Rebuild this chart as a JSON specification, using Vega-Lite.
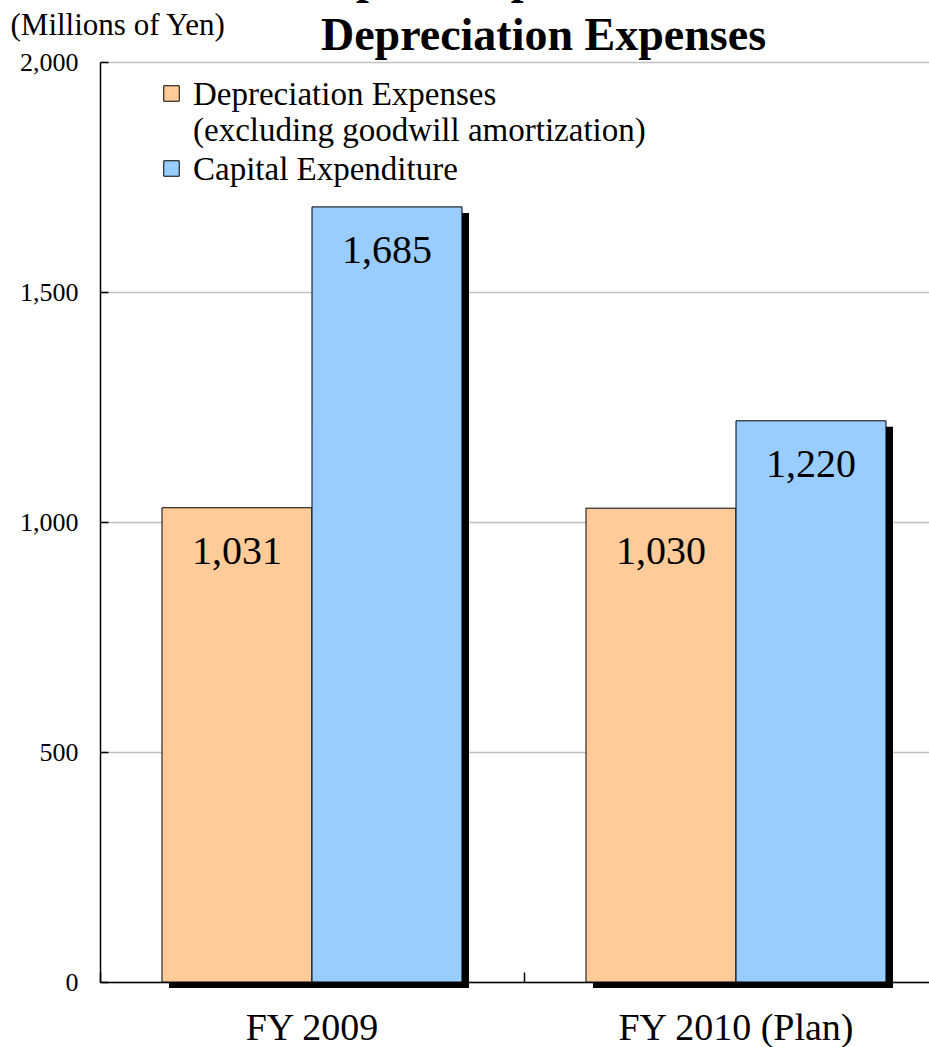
{
  "$schema": "https://vega.github.io/schema/vega-lite/v6.json",
  "autosize": "none",
  "width": 829,
  "height": 920,
  "padding": {"left": 100, "top": 62, "right": 0, "bottom": 65},
  "background": "white",
  "title": {
    "text": ["Capital Expenditure and", "Depreciation Expenses"],
    "font": "Times New Roman",
    "fontSize": 46,
    "fontWeight": "bold",
    "color": "black",
    "anchor": "middle",
    "frame": "group",
    "baseline": "alphabetic",
    "lineHeight": 57,
    "offset": -87,
    "dx": 29
  },
  "data": {
    "values": [
      {"year": "FY 2009", "series": "Depreciation Expenses", "value": 1031},
      {"year": "FY 2009", "series": "Capital Expenditure", "value": 1685},
      {"year": "FY 2010 (Plan)", "series": "Depreciation Expenses", "value": 1030},
      {"year": "FY 2010 (Plan)", "series": "Capital Expenditure", "value": 1220}
    ]
  },
  "config": {
    "view": {"stroke": null},
    "font": "Times New Roman"
  },
  "encoding": {
    "x": {
      "field": "year",
      "type": "nominal",
      "sort": ["FY 2009", "FY 2010 (Plan)"],
      "scale": {"range": [0, 848], "paddingInner": 0.2925, "paddingOuter": 0.14625}
    },
    "xOffset": {
      "field": "series",
      "type": "nominal",
      "sort": ["Depreciation Expenses", "Capital Expenditure"],
      "scale": {"type": "band", "paddingInner": 0, "paddingOuter": 0}
    },
    "y": {
      "field": "value",
      "type": "quantitative",
      "scale": {"domain": [0, 2000], "nice": false}
    }
  },
  "layer": [
    {
      "mark": {"type": "bar", "color": "black", "yOffset": 6, "y2Offset": -5},
      "encoding": {
        "x": {
          "field": "year",
          "type": "nominal",
          "sort": ["FY 2009", "FY 2010 (Plan)"],
          "axis": {
            "orient": "bottom",
            "title": null,
            "labels": false,
            "domain": false,
            "grid": false,
            "ticks": true,
            "tickSize": -10,
            "tickWidth": 1.5,
            "tickColor": "black",
            "bandPosition": -0.2067
          }
        },
        "xOffset": {
          "field": "series",
          "type": "nominal",
          "sort": ["Depreciation Expenses", "Capital Expenditure"],
          "scale": {"type": "band", "range": [7, 307], "paddingInner": 0, "paddingOuter": 0}
        },
        "y": {
          "field": "value",
          "type": "quantitative",
          "axis": {
            "title": "(Millions of Yen)",
            "titleAngle": 0,
            "titleAlign": "left",
            "titleBaseline": "middle",
            "titleX": -90,
            "titleY": -37,
            "titleFont": "Times New Roman",
            "titleFontSize": 31,
            "titleFontWeight": "normal",
            "titleColor": "black",
            "values": [0, 500, 1000, 1500, 2000],
            "format": ",.0f",
            "labelFont": "Times New Roman",
            "labelFontSize": 26,
            "labelColor": "black",
            "labelPadding": 30,
            "tickSize": -8,
            "tickColor": "black",
            "tickWidth": 1.5,
            "domainColor": "black",
            "domainWidth": 1.5,
            "grid": true,
            "gridColor": "#c0c0c0",
            "gridWidth": 1.5
          }
        }
      }
    },
    {
      "mark": {"type": "bar", "stroke": "black", "strokeWidth": 1},
      "encoding": {
        "x": {
          "field": "year",
          "type": "nominal",
          "sort": ["FY 2009", "FY 2010 (Plan)"],
          "axis": {
            "orient": "bottom",
            "title": null,
            "ticks": false,
            "domain": true,
            "domainColor": "black",
            "domainWidth": 1.5,
            "labelAngle": 0,
            "labelFont": "Times New Roman",
            "labelFontSize": 38,
            "labelColor": "black",
            "labelLimit": 0,
            "labelPadding": 27
          }
        },
        "color": {
          "field": "series",
          "type": "nominal",
          "sort": ["Depreciation Expenses", "Capital Expenditure"],
          "scale": {"domain": ["Depreciation Expenses", "Capital Expenditure"], "range": ["#FFCC99", "#99CCFF"]},
          "legend": {
            "orient": "none",
            "legendX": 55,
            "legendY": 15,
            "title": null,
            "padding": 0,
            "symbolType": "square",
            "symbolSize": 240,
            "symbolStrokeColor": "black",
            "symbolStrokeWidth": 1,
            "symbolOpacity": 1,
            "labelFont": "Times New Roman",
            "labelFontSize": 33,
            "labelColor": "black",
            "labelLimit": 0,
            "labelOffset": 5,
            "labelBaseline": "alphabetic",
            "rowPadding": 4,
            "labelExpr": "datum.label == 'Depreciation Expenses' ? ['Depreciation Expenses', '(excluding goodwill amortization)'] : datum.label",
            "encode": {
              "labels": {"update": {"dy": {"value": 11}, "lineHeight": {"value": 36}}}
            }
          }
        }
      }
    },
    {
      "mark": {"type": "text", "font": "Times New Roman", "fontSize": 40, "color": "black", "baseline": "middle", "dy": 44},
      "encoding": {
        "x": {
          "field": "year",
          "type": "nominal",
          "sort": ["FY 2009", "FY 2010 (Plan)"],
          "axis": null
        },
        "text": {"field": "value", "type": "quantitative", "format": ","}
      }
    }
  ],
  "resolve": {"axis": {"x": "independent"}, "scale": {"xOffset": "independent"}}
}
